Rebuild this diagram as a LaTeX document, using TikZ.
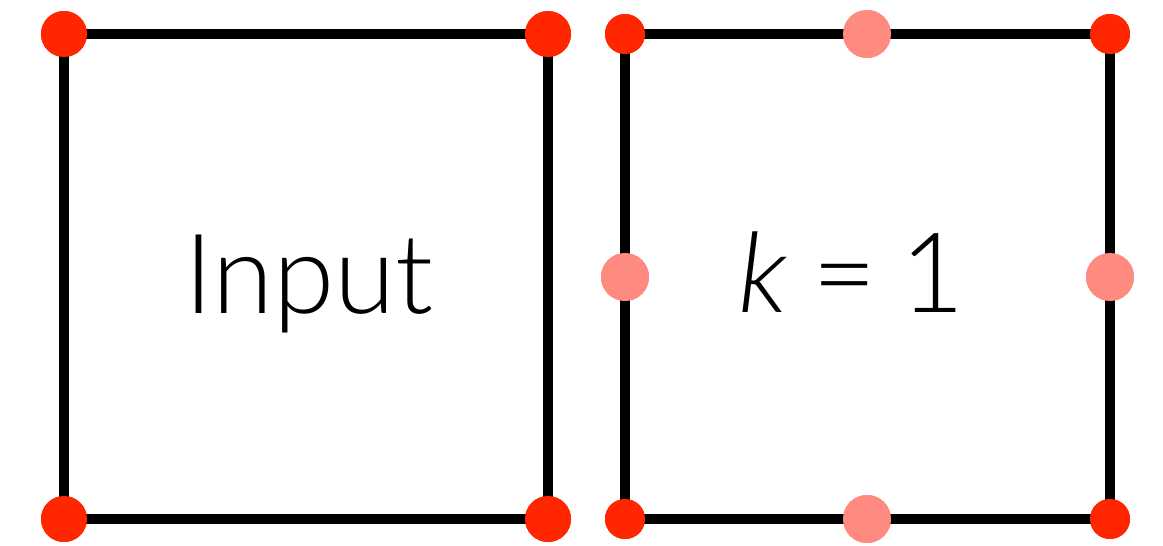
\documentclass[tikz,border=0pt]{standalone}
\usepackage{fontspec}
\setmainfont{Lato Light}
\definecolor{dotred}{HTML}{FF2600}
\definecolor{dotpink}{HTML}{FF8A80}
\begin{document}
\begin{tikzpicture}[x=1pt,y=-1pt,
  corner/.style={circle,fill=dotred,minimum size=46pt,inner sep=0pt},
  cornersm/.style={circle,fill=dotred,minimum size=40pt,inner sep=0pt},
  mid/.style={circle,fill=dotpink,minimum size=48pt,inner sep=0pt},
  edge/.style={line width=10pt,black,shorten <=-3pt,shorten >=-3pt},
  lbl/.style={font=\fontsize{111}{111}\selectfont,anchor=base,inner sep=0pt}]
\useasboundingbox (0,0) rectangle (1163,546);
% left square
\node[corner] (a1) at (64,34) {};
\node[corner] (a2) at (548,34) {};
\node[corner] (a3) at (548,519) {};
\node[corner] (a4) at (64,519) {};
\draw[edge] (a1) -- (a2);
\draw[edge] (a2) -- (a3);
\draw[edge] (a3) -- (a4);
\draw[edge] (a4) -- (a1);
\node[corner] at (a1) {};
\node[corner] at (a2) {};
\node[corner] at (a3) {};
\node[corner] at (a4) {};
% right square
\node[cornersm] (b1) at (625,34) {};
\node[cornersm] (b2) at (1110,34) {};
\node[cornersm] (b3) at (1110,519) {};
\node[cornersm] (b4) at (625,519) {};
\node[mid] (m1) at (867,34) {};
\node[mid] (m2) at (1110,277) {};
\node[mid] (m3) at (867,519) {};
\node[mid] (m4) at (625,277) {};
\draw[edge] (b1) -- (m1);
\draw[edge] (m1) -- (b2);
\draw[edge] (b2) -- (m2);
\draw[edge] (m2) -- (b3);
\draw[edge] (b3) -- (m3);
\draw[edge] (m3) -- (b4);
\draw[edge] (b4) -- (m4);
\draw[edge] (m4) -- (b1);
\foreach \n in {b1,b2,b3,b4} \node[cornersm] at (\n) {};
\foreach \n in {m1,m2,m3,m4} \node[mid] at (\n) {};
% labels
\node[lbl] (t1) at (309,313) {Input};
\node[lbl] (t2) at (852,312) {{\itshape k}\hspace{0.22em}=\hspace{0.22em}1};
\end{tikzpicture}
\end{document}
